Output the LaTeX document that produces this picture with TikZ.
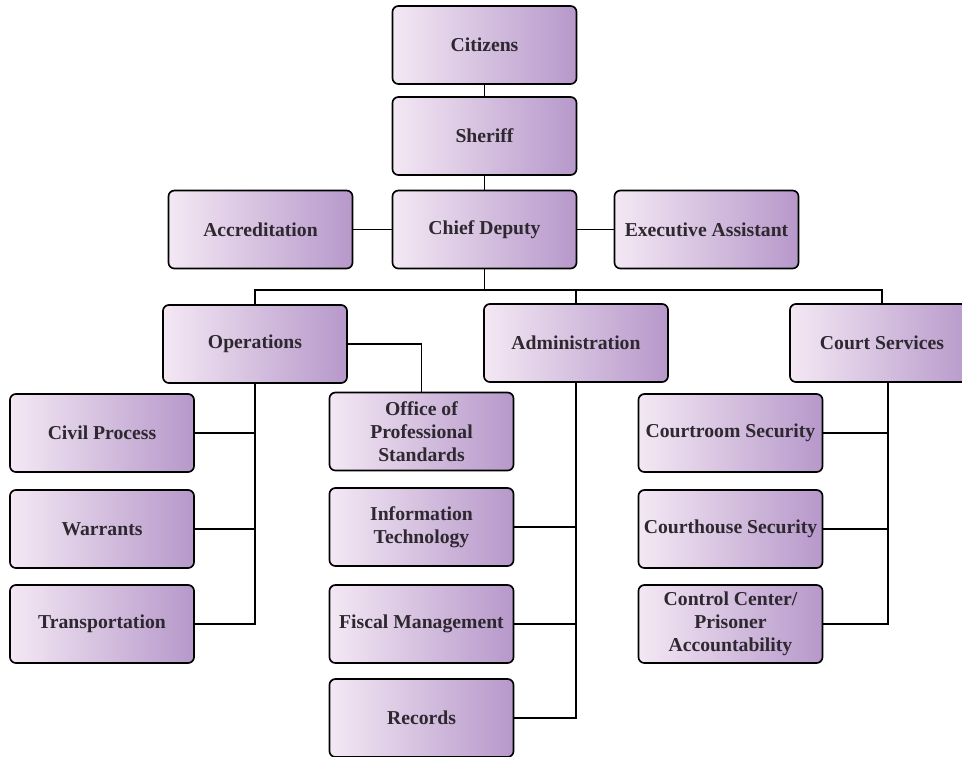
\documentclass[tikz,border=0pt]{standalone}
\usepackage{fontspec}
\setmainfont{Liberation Serif}
\definecolor{boxlight}{RGB}{244,232,244}
\definecolor{boxdark}{RGB}{182,152,202}
\definecolor{boxtext}{RGB}{46,40,48}
\tikzset{
    unit/.style={draw=black, line width=1.2pt, rounded corners=0.15cm,
        left color=boxlight, right color=boxdark,
        minimum width=4.6cm, minimum height=1.95cm, inner sep=2pt,
        align=center, text=boxtext,
        font=\fontsize{14}{16.5}\selectfont\bfseries},
    link/.style={draw=black, line width=1.2pt}
}
\begin{document}
\begin{tikzpicture}[x=0.025cm, y=-0.025cm]
        \useasboundingbox (0,0) rectangle (962,757);

        \node[unit] (citizens) at (484.5,45) {Citizens};
        \node[unit] (sheriff) at (484.5,136) {Sheriff};
        \node[unit] (chief) at (484.5,229.5) {Chief Deputy};
        \node[unit] (accred) at (260.5,229.5) {Accreditation};
        \node[unit] (exec) at (706.5,229.5) {Executive Assistant};

        \node[unit] (ops) at (255,344) {Operations};
        \node[unit] (admin) at (576,343) {Administration};
        \node[unit] (court) at (882,343) {Court Services};

        \node[unit] (civil) at (102,433) {Civil Process};
        \node[unit] (warrants) at (102,529) {Warrants};
        \node[unit] (transport) at (102,624) {Transportation};

        \node[unit] (ostd) at (421.5,431.5) {Office of\\Professional\\Standards};
        \node[unit] (infotech) at (421.5,527) {Information\\Technology};
        \node[unit] (fiscal) at (421.5,624) {Fiscal Management};
        \node[unit] (records) at (421.5,718) {Records};

        \node[unit] (courtroom) at (730.5,433) {Courtroom Security};
        \node[unit] (courthouse) at (730.5,529) {Courthouse Security};
        \node[unit] (control) at (730.5,624) {Control Center/\\Prisoner\\Accountability};

        \coordinate (bus) at (484.5,290);
        \coordinate (cstrunk) at (888,383);

        \draw[link] (citizens) -- (sheriff);
        \draw[link] (sheriff) -- (chief);
        \draw[link] (accred) -- (chief);
        \draw[link] (chief) -- (exec);

        \draw[link] (chief) -- (bus);
        \draw[link] (ops.north) |- (bus) -| (court.north);
        \draw[link] (admin.north) -- (admin.north |- bus);

        % operations
        \draw[link] (ops.south) |- (transport.east);
        \draw[link] (civil.east) -- (civil.east -| ops.south);
        \draw[link] (warrants.east) -- (warrants.east -| ops.south);
        \draw[link] (ops.east) -| (ostd.north);

        % administration
        \draw[link] (admin.south) |- (records.east);
        \draw[link] (infotech.east) -- (infotech.east -| admin.south);
        \draw[link] (fiscal.east) -- (fiscal.east -| admin.south);

        % court services
        \draw[link] (cstrunk) |- (control.east);
        \draw[link] (courtroom.east) -- (courtroom.east -| cstrunk);
        \draw[link] (courthouse.east) -- (courthouse.east -| cstrunk);
\end{tikzpicture}
\end{document}
